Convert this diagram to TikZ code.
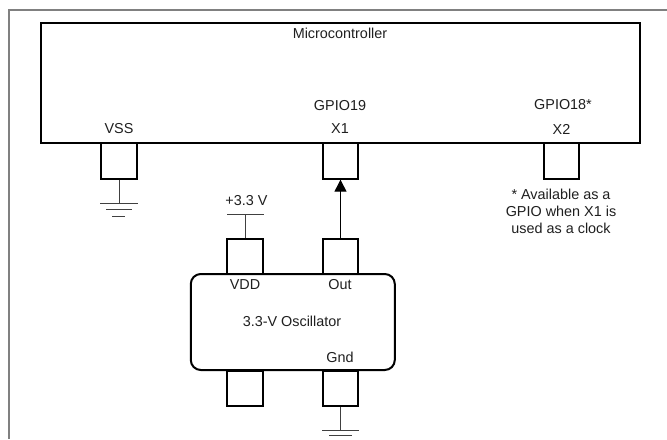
\documentclass[tikz,border=0pt]{standalone}
\usepackage{fontspec}
\setmainfont{Liberation Sans}
\usetikzlibrary{arrows.meta}
\tikzset{
  x=0.75pt,y=-0.75pt,
  box/.style={draw=black,line width=1.5pt,line cap=butt,line join=miter,inner sep=0pt,minimum width=26.5pt,minimum height=26.5pt},
  thin wire/.style={draw=black!75,line width=0.75pt},
  lbl/.style={font=\fontsize{10.8}{13}\selectfont,text=black!88,inner sep=0pt,align=center},
}
\begin{document}
\begin{tikzpicture}
\useasboundingbox (0,0) rectangle (667,439);
\draw[draw=black!50,line width=1.1pt] (667,10) -- (9,10) -- (9,439);
\path[box,draw] (41,23) rectangle (640,143);
\node[lbl] (mcu) at (340,33) {Microcontroller};
\node[lbl] (vss) at (119,129) {VSS};
\node[lbl] (g19) at (340,106) {GPIO19};
\node[lbl] (x1) at (340,129) {X1};
\node[lbl] (g18) at (563,105) {GPIO18*};
\node[lbl] (x2) at (561.5,129) {X2};
\node[box] (p1) at (119,161) {};
\node[box] (p2) at (340.5,161) {};
\node[box] (p3) at (561.5,161) {};
\node[lbl] (note) at (561,211.5) {* Available as a\\GPIO when X1 is\\used as a clock};
\node[box] (p4) at (245,256.5) {};
\node[box] (p5) at (340.5,256.5) {};
\node[box] (p6) at (245,388.5) {};
\node[box] (p7) at (340.5,388.5) {};
\node[lbl] (plus) at (246.5,201) {+3.3 V};
\node[draw,line width=1.5pt,rounded corners=7.5pt,minimum width=153pt,minimum height=72pt,inner sep=0pt] (osc) at (292.8,322) {};
\node[lbl] (vdd) at (245,285) {VDD};
\node[lbl] (out) at (340,285) {Out};
\node[lbl] (osctxt) at (292,321) {3.3-V Oscillator};
\node[lbl] (gnd) at (340,357) {Gnd};
\coordinate (g1) at (119,203.5);
\coordinate (g2) at (p7.south |- 0,430);
\coordinate (v) at (245,214.5);
\draw[thin wire] (p1.south) -- (g1);
\draw[thin wire] (100,203.5) -- (138,203.5);
\draw[thin wire] (106,209.8) -- (132,209.8);
\draw[thin wire] (112,216) -- (125,216);
\draw[thin wire] (v) -- (p4.north);
\draw[thin wire] (227,214.5) -- (264,214.5);
\draw[thin wire] (p7.south) -- (g2);
\draw[thin wire] (322,430) -- (359,430);
\draw[thin wire] (329,435.5) -- (352,435.5);
\draw[draw=black,line width=0.8pt,-{Triangle[length=9pt,width=9pt]}] (p5.north) -- (p2.south);
\end{tikzpicture}
\end{document}
